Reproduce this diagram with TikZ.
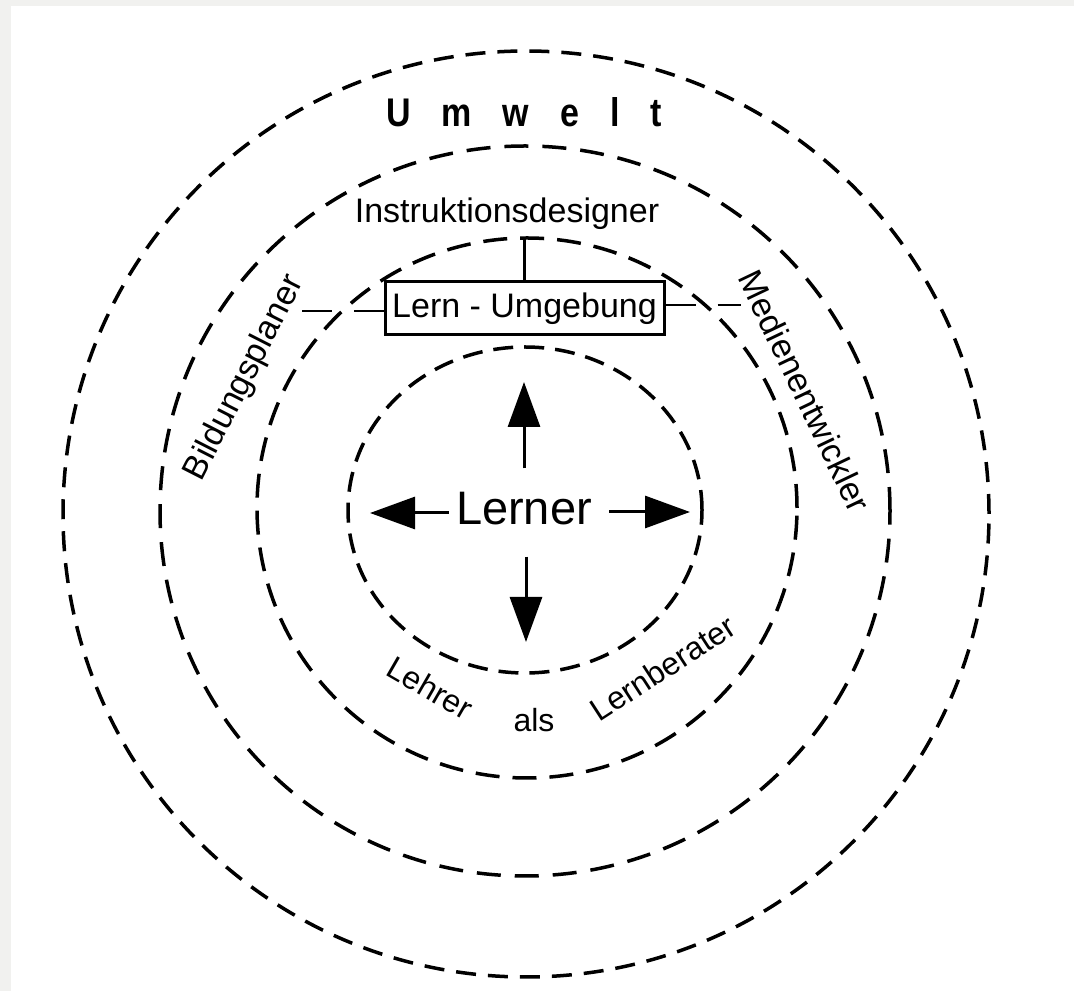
\documentclass[tikz,border=0pt]{standalone}
\usepackage{fontspec}
\setmainfont{Liberation Sans}
\newfontfamily\umfont[FakeStretch=0.85]{Liberation Sans}
\usetikzlibrary{arrows.meta,calc}
\definecolor{framegray}{RGB}{241,241,239}
\newcommand\fsA{\fontsize{34}{40}\selectfont}
\newcommand\fsB{\fontsize{32}{38}\selectfont}
\newcommand\fsL{\fontsize{47}{54}\selectfont}
\newcommand\fsU{\fontsize{40}{46}\selectfont}
\begin{document}
\begin{tikzpicture}[x=1pt,y=1pt,
  ringline/.style={line width=3.5pt},
  arr/.style={line width=3pt,-{Triangle[length=45pt,width=32pt]}},
  conn/.style={line width=2.5pt},
  ringlabel/.style={inner sep=0pt,font=\fsA},
  lowlabel/.style={inner sep=0pt,font=\fsB}
]
\fill[framegray] (0,0) rectangle (1074,991);
\fill[white] (11,0) rectangle (1074,985);
\useasboundingbox (0,0) rectangle (1074,991);

% rings
\draw[ringline,dash pattern=on 20pt off 12pt] (526,477) circle[radius=463];
\draw[ringline,dash pattern=on 24pt off 14pt] (525,480) circle[radius=365];
\draw[ringline,dash pattern=on 24pt off 13pt] (527,483) circle[radius=270];
\draw[ringline,dash pattern=on 20pt off 11pt] (525,481) ellipse[x radius=177,y radius=163];

% labels
\node[anchor=base,inner sep=0pt,font=\umfont\bfseries\fsU] (umwelt) at (524,864) {\spaceskip=31pt U m w e l t};
\node[anchor=base,ringlabel] (instr) at (507,768) {Instruktionsdesigner};
\node[ringlabel,rotate=63] (bildung) at (245,613) {Bildungsplaner};
\node[ringlabel,rotate=-64.5] (medien) at (805,600) {Medienentwickler};

\node[draw,line width=3pt,minimum width=279pt,minimum height=53pt,inner sep=0pt,font=\fsA] (box) at (524.5,682.5) {Lern - Umgebung};
\coordinate (topC) at (524.5,754);
\coordinate (bpEnd) at (297,680);
\coordinate (meEnd) at (741,686);
\draw[conn] (box.north) -- (topC);
\draw[conn,dash pattern=on 30pt off 22pt] (box.west |- bpEnd) -- (bpEnd);
\draw[conn,dash pattern=on 30pt off 22pt] (box.east |- meEnd) -- (meEnd);

% centre
\node[inner sep=0pt,font=\fsL] (lerner) at (524,482) {Lerner};
\coordinate (tipN) at (524,609);
\coordinate (tipS) at (526,349);
\coordinate (tipW) at (370,478);
\coordinate (tipE) at (690,479);
\draw[arr] ([yshift=24pt]lerner.north) -- (tipN);
\draw[arr] ([xshift=2pt,yshift=-31pt]lerner.south) -- (tipS);
\draw[arr] ([xshift=-7pt,yshift=-4pt]lerner.west) -- (tipW);
\draw[arr] ([xshift=17pt,yshift=-3pt]lerner.east) -- (tipE);

% lower texts
\node[lowlabel,rotate=-30] (lehrer) at (430,303) {Lehrer};
\node[lowlabel] (als) at (534,271) {als};
\node[lowlabel,rotate=33] (berater) at (663,323) {Lernberater};
\end{tikzpicture}
\end{document}
